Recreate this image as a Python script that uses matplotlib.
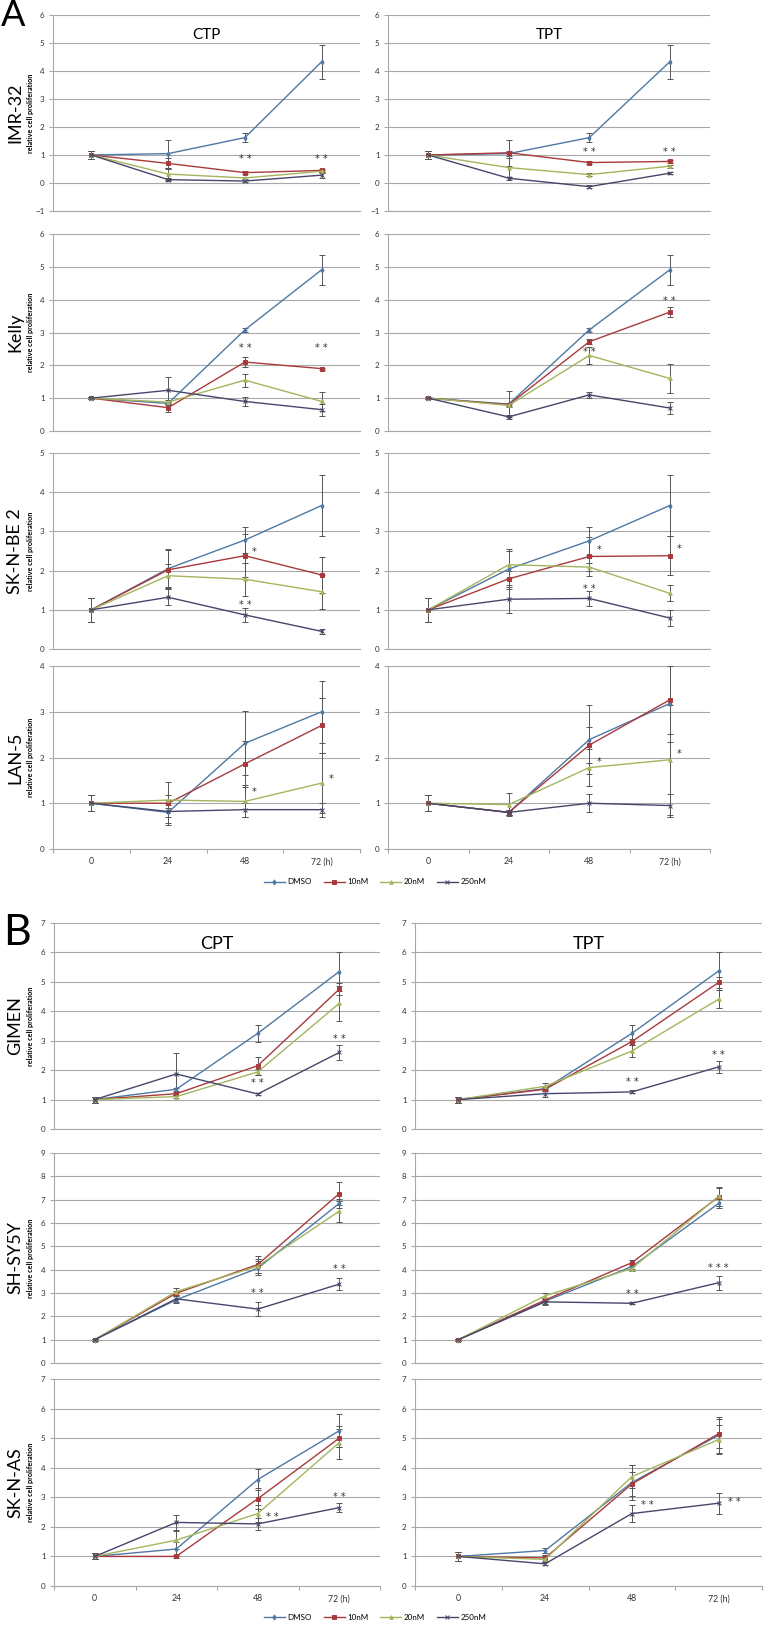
import numpy as np
import matplotlib
matplotlib.use("Agg")
import matplotlib.pyplot as plt
from matplotlib.lines import Line2D

plt.rcParams['font.family'] = ['Lato', 'DejaVu Sans']

# x categories and series
times = ['0', '24', '48', '72 (h)']
series_names = ['DMSO', '10nM', '20nM', '250nM']
colors = ['#4f78a4', '#a83a3c', '#a4b55e', '#45476a']
markers = ['d', 's', '^', 'x']

# ---- panel A ----
imr32_ctp = [[1.0, 1.05, 1.62, 4.33], [1.0, 0.70, 0.37, 0.45], [1.0, 0.32, 0.18, 0.42], [1.0, 0.12, 0.07, 0.28]]
imr32_ctp_err = [[0.13, 0.50, 0.15, 0.60], [0.13, 0.20, 0.05, 0.05], [0.13, 0.20, 0.05, 0.05], [0.13, 0.05, 0.03, 0.10]]
imr32_ctp_stars = [(2, 0.85, '**'), (3, 0.85, '**')]
imr32_tpt = [[1.0, 1.05, 1.62, 4.33], [1.0, 1.08, 0.73, 0.77], [1.0, 0.55, 0.30, 0.60], [1.0, 0.17, -0.13, 0.35]]
imr32_tpt_err = [[0.13, 0.10, 0.15, 0.60], [0.13, 0.47, 0.05, 0.05], [0.13, 0.35, 0.05, 0.05], [0.13, 0.05, 0.05, 0.03]]
imr32_tpt_stars = [(2, 1.1, '**'), (3, 1.1, '**')]

kelly_ctp = [[1.0, 0.84, 3.08, 4.91], [1.0, 0.71, 2.10, 1.90], [1.0, 0.88, 1.55, 0.90], [1.0, 1.24, 0.90, 0.65]]
kelly_ctp_err = [[0.03, 0.05, 0.05, 0.45], [0.03, 0.12, 0.15, 0.03], [0.03, 0.05, 0.20, 0.30], [0.03, 0.40, 0.15, 0.18]]
kelly_ctp_stars = [(2, 2.53, '**'), (3, 2.53, '**')]
kelly_tpt = [[1.0, 0.82, 3.08, 4.91], [1.0, 0.80, 2.72, 3.62], [1.0, 0.78, 2.30, 1.60], [1.0, 0.43, 1.10, 0.70]]
kelly_tpt_err = [[0.03, 0.40, 0.05, 0.45], [0.03, 0.05, 0.08, 0.15], [0.03, 0.05, 0.25, 0.45], [0.03, 0.05, 0.08, 0.18]]
kelly_tpt_stars = [(2, 2.41, '**'), (3, 3.97, '**')]

skbe2_ctp = [[1.0, 2.05, 2.78, 3.66], [1.0, 2.02, 2.38, 1.89], [1.0, 1.87, 1.78, 1.46], [1.0, 1.32, 0.87, 0.45]]
skbe2_ctp_err = [[0.30, 0.50, 0.33, 0.78], [0.30, 0.50, 0.55, 0.45], [0.30, 0.30, 0.42, 0.43], [0.30, 0.20, 0.18, 0.07]]
skbe2_ctp_stars = [(2.12, 2.48, '*'), (2, 1.13, '**')]
skbe2_tpt = [[1.0, 2.04, 2.76, 3.66], [1.0, 1.79, 2.36, 2.38], [1.0, 2.15, 2.09, 1.42], [1.0, 1.27, 1.29, 0.79]]
skbe2_tpt_err = [[0.30, 0.50, 0.35, 0.78], [0.30, 0.20, 0.50, 0.50], [0.30, 0.35, 0.10, 0.20], [0.30, 0.35, 0.20, 0.20]]
skbe2_tpt_stars = [(2.12, 2.52, '*'), (3.12, 2.55, '*'), (2, 1.52, '**')]

lan5_ctp = [[1.0, 0.80, 2.31, 3.00], [1.0, 1.00, 1.86, 2.70], [1.0, 1.07, 1.04, 1.44], [1.0, 0.82, 0.86, 0.86]]
lan5_ctp_err = [[0.17, 0.10, 0.70, 0.68], [0.17, 0.47, 0.50, 0.60], [0.17, 0.10, 0.35, 0.65], [0.17, 0.25, 0.15, 0.15]]
lan5_ctp_stars = [(2.12, 1.24, '*'), (3.12, 1.53, '*')]
lan5_tpt = [[1.0, 0.80, 2.39, 3.18], [1.0, 0.80, 2.27, 3.26], [1.0, 0.97, 1.78, 1.95], [1.0, 0.80, 1.00, 0.95]]
lan5_tpt_err = [[0.17, 0.05, 0.75, 0.85], [0.17, 0.05, 0.40, 0.75], [0.17, 0.25, 0.40, 1.20], [0.17, 0.05, 0.20, 0.25]]
lan5_tpt_stars = [(2.12, 1.91, '*'), (3.12, 2.07, '*')]

# ---- panel B ----
gimen_cpt = [[1.0, 1.35, 3.25, 5.35], [1.0, 1.20, 2.15, 4.75], [1.0, 1.10, 1.94, 4.27], [1.0, 1.87, 1.19, 2.60]]
gimen_cpt_err = [[0.10, 0.05, 0.30, 0.65], [0.10, 0.05, 0.30, 0.20], [0.10, 0.05, 0.10, 0.60], [0.10, 0.72, 0.03, 0.27]]
gimen_cpt_stars = [(2, 1.57, '**'), (3, 3.06, '**')]
gimen_tpt = [[1.0, 1.37, 3.25, 5.37], [1.0, 1.35, 2.97, 4.98], [1.0, 1.45, 2.65, 4.41], [1.0, 1.20, 1.26, 2.11]]
gimen_tpt_err = [[0.10, 0.05, 0.30, 0.65], [0.10, 0.05, 0.10, 0.20], [0.10, 0.10, 0.20, 0.30], [0.10, 0.10, 0.05, 0.20]]
gimen_tpt_stars = [(2, 1.61, '**'), (3, 2.53, '**')]

shsy5y_cpt = [[1.0, 2.71, 4.06, 6.84], [1.0, 2.99, 4.22, 7.26], [1.0, 3.06, 4.15, 6.51], [1.0, 2.75, 2.31, 3.38]]
shsy5y_cpt_err = [[0.05, 0.15, 0.30, 0.20], [0.05, 0.10, 0.35, 0.50], [0.05, 0.15, 0.30, 0.45], [0.05, 0.15, 0.30, 0.25]]
shsy5y_cpt_stars = [(2, 2.99, '**'), (3, 4.02, '**')]
shsy5y_tpt = [[1.0, 2.65, 4.13, 6.84], [1.0, 2.70, 4.30, 7.12], [1.0, 2.88, 4.05, 7.15], [1.0, 2.62, 2.56, 3.44]]
shsy5y_tpt_err = [[0.05, 0.10, 0.10, 0.20], [0.05, 0.10, 0.10, 0.40], [0.05, 0.10, 0.10, 0.40], [0.05, 0.15, 0.05, 0.30]]
shsy5y_tpt_stars = [(2, 2.95, '**'), (3, 4.06, '***')]

sknas_cpt = [[1.0, 1.25, 3.60, 5.25], [1.0, 1.00, 2.95, 5.00], [1.0, 1.55, 2.45, 4.85], [1.0, 2.15, 2.10, 2.65]]
sknas_cpt_err = [[0.10, 0.25, 0.35, 0.55], [0.10, 0.05, 0.35, 0.30], [0.10, 0.30, 0.30, 0.55], [0.10, 0.25, 0.20, 0.15]]
sknas_cpt_stars = [(2.18, 2.35, '**'), (3, 3.0, '**')]
sknas_tpt = [[1.0, 1.20, 3.50, 5.10], [1.0, 0.95, 3.45, 5.15], [1.0, 0.90, 3.70, 4.95], [1.0, 0.75, 2.45, 2.80]]
sknas_tpt_err = [[0.15, 0.10, 0.60, 0.60], [0.15, 0.10, 0.40, 0.50], [0.15, 0.10, 0.40, 0.50], [0.15, 0.05, 0.30, 0.35]]
sknas_tpt_stars = [(2.18, 2.75, '**'), (3.18, 2.85, '**')]

W, H = 775, 1628
fig = plt.figure(figsize=(W / 100, H / 100), dpi=100)


def add_ax(x0, x1, ytop, ybot):
    return fig.add_axes([x0 / W, 1 - ybot / H, (x1 - x0) / W, (ybot - ytop) / H])


def draw(ax, vals, errs, stars, ylo, yhi, xlabels):
    x = np.arange(len(times))
    for i in range(4):
        ax.errorbar(x, vals[i], yerr=errs[i], color=colors[i], marker=markers[i],
                    markersize=2.6, markeredgewidth=0.7, lw=1.0, elinewidth=0.7,
                    capsize=2, capthick=0.7, ecolor='#555555', zorder=3)
    for sx, sy, s in stars:
        ax.text(sx, sy, ' '.join(s), ha='center', va='center', fontsize=7, color='#333333',
                family='DejaVu Sans', zorder=4)
    ax.set_xlim(-0.5, 3.5)
    ax.set_ylim(ylo, yhi)
    ax.set_yticks(np.arange(ylo, yhi + 1))
    ax.yaxis.grid(True, color='#a8a8a8', lw=0.8)
    ax.set_axisbelow(True)
    for s in ['top', 'right']:
        ax.spines[s].set_visible(False)
    ax.spines['left'].set_color('#a8a8a8')
    ax.spines['bottom'].set_color('#a8a8a8')
    ax.tick_params(axis='y', labelsize=5.8, labelcolor='#333333', color='#a8a8a8', length=3, width=0.8, pad=3)
    if xlabels:
        ax.set_xticks(np.arange(-0.5, 4, 1))
        ax.set_xticklabels([])
        ax.set_xticks(x, minor=True)
        ax.set_xticklabels(times, minor=True)
        ax.tick_params(axis='x', which='major', color='#a8a8a8', length=3, width=0.8)
        ax.tick_params(axis='x', which='minor', length=0, labelsize=6.3, labelcolor='#333333', pad=6)
    else:
        ax.set_xticks([])


# rows: (top px, bottom px, ylo, yhi, name, data...)
a_rows = [(15, 211, -1, 6, 'IMR-32', imr32_ctp, imr32_ctp_err, imr32_ctp_stars, imr32_tpt, imr32_tpt_err, imr32_tpt_stars),
          (234, 431, 0, 6, 'Kelly', kelly_ctp, kelly_ctp_err, kelly_ctp_stars, kelly_tpt, kelly_tpt_err, kelly_tpt_stars),
          (453, 649, 0, 5, 'SK-N-BE 2', skbe2_ctp, skbe2_ctp_err, skbe2_ctp_stars, skbe2_tpt, skbe2_tpt_err, skbe2_tpt_stars),
          (666, 849, 0, 4, 'LAN-5', lan5_ctp, lan5_ctp_err, lan5_ctp_stars, lan5_tpt, lan5_tpt_err, lan5_tpt_stars)]
b_rows = [(923, 1129, 0, 7, 'GIMEN', gimen_cpt, gimen_cpt_err, gimen_cpt_stars, gimen_tpt, gimen_tpt_err, gimen_tpt_stars),
          (1153, 1363, 0, 9, 'SH-SY5Y', shsy5y_cpt, shsy5y_cpt_err, shsy5y_cpt_stars, shsy5y_tpt, shsy5y_tpt_err, shsy5y_tpt_stars),
          (1379, 1586, 0, 7, 'SK-N-AS', sknas_cpt, sknas_cpt_err, sknas_cpt_stars, sknas_tpt, sknas_tpt_err, sknas_tpt_stars)]


def draw_panel(rows, lx, rx, titles, title_size):
    for k, (yt, yb, ylo, yhi, name, v1, e1, s1, v2, e2, s2) in enumerate(rows):
        last = k == len(rows) - 1
        ax1 = add_ax(lx[0], lx[1], yt, yb)
        draw(ax1, v1, e1, s1, ylo, yhi, last)
        ax2 = add_ax(rx[0], rx[1], yt, yb)
        draw(ax2, v2, e2, s2, ylo, yhi, last)
        yc = 1 - (yt + yb) / 2 / H
        fig.text(15 / W, yc, name, rotation=90, ha='center', va='center', fontsize=13)
        fig.text(30 / W, yc, 'relative cell proliferation', rotation=90, ha='center', va='center',
                 fontsize=5.2, fontweight='bold')
        if k == 0:
            ax1.text(0.5, 0.9, titles[0], transform=ax1.transAxes, ha='center', va='center', fontsize=title_size)
            ax2.text(0.5, 0.9, titles[1], transform=ax2.transAxes, ha='center', va='center', fontsize=title_size)


draw_panel(a_rows, (53, 360), (388, 710), ('CTP', 'TPT'), 11)
draw_panel(b_rows, (54, 380), (415, 762), ('CPT', 'TPT'), 13)

fig.text(1 / W, 1 - 15 / H, 'A', fontsize=26, ha='left', va='center')
fig.text(3 / W, 1 - 933 / H, 'B', fontsize=31, ha='left', va='center')

handles = [Line2D([], [], color=colors[i], marker=markers[i], markersize=2.6, markeredgewidth=0.7, lw=1.0)
           for i in range(4)]
for yy in (882, 1617):
    fig.legend(handles, series_names, loc='center', bbox_to_anchor=(375 / W, 1 - yy / H), ncol=4,
               frameon=False, fontsize=5.8, handlelength=2.6, columnspacing=1.5, handletextpad=0.3)

fig.savefig('out.png', dpi=100)
